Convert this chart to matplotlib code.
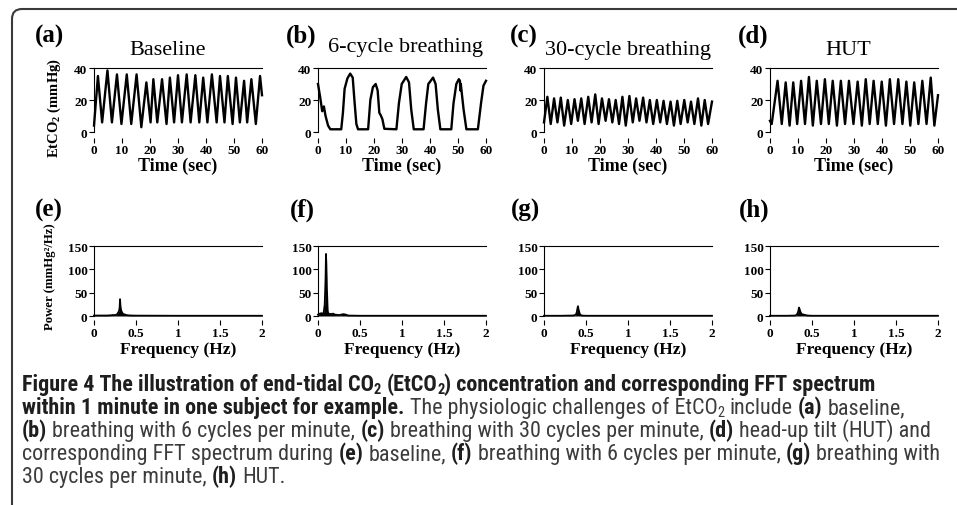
import numpy as np
import matplotlib
matplotlib.use("Agg")
import matplotlib.pyplot as plt
from matplotlib.path import Path
from matplotlib.patches import PathPatch
from matplotlib import font_manager

# ---------------- data ----------------
# (a) Baseline EtCO2 (mmHg): peaks and troughs of each breath
base_peak_t = [1.4, 4.8, 8.2, 11.7, 15.2, 18.7, 21.2, 24.3, 27.1, 30.0,
               33.1, 36.2, 39.0, 42.1, 45.0, 47.8, 50.7, 53.6, 56.2, 59.3]
base_peak_v = [35, 38.5, 36, 36, 36, 31, 33, 33, 34, 35.5,
               36, 35.5, 34, 36, 35, 35, 34, 32, 33, 35]
base_trough_t = [0.0, 2.9, 6.4, 9.8, 13.3, 16.9, 20.2, 22.6, 25.9, 28.6,
                 31.4, 34.5, 37.6, 40.5, 43.8, 46.6, 49.5, 52.1, 54.7, 57.8]
base_trough_v = [4, 6, 6, 5, 5, 3, 6, 6, 5, 6,
                 6, 6, 6, 6, 6, 6, 5, 6, 6, 5]
base_end = (60.0, 23)

# (b) 6-cycle breathing, traced outline
slow_t = [0.0, 0.8, 1.5, 2.1, 2.7, 3.6, 4.4, 8.3, 8.9, 9.5, 10.5, 11.5, 12.4, 13.0,
          13.7, 14.3, 17.9, 18.7, 19.6, 20.6, 21.3, 21.9, 22.4, 23.0, 23.7, 28.0,
          28.9, 29.9, 31.5, 32.5, 33.3, 34.2, 37.7, 38.6, 39.4, 41.1, 42.0, 42.8,
          43.7, 47.6, 48.4, 49.4, 50.3, 50.7, 50.8, 51.0, 52.0, 53.0, 57.1, 58.3,
          59.1, 60.0]
slow_v = [30, 21.5, 13, 16, 10, 4, 1.7, 1.7, 12, 27, 33.5, 36.5, 34, 20,
          5, 1.7, 1.7, 20, 28, 30, 26, 12, 10.5, 8, 2, 1.7,
          18, 30, 34.4, 31, 14, 1.7, 1.7, 18, 30, 34, 30, 14,
          1.7, 1.7, 18, 30, 33, 32, 26, 30, 14, 1.7, 1.7, 19,
          29, 32]

# (c) 30-cycle breathing
fast_peak_t = [1.2, 3.6, 6.0, 8.5, 10.9, 13.3, 15.8, 18.3, 20.7, 23.2, 25.6, 28.0,
               30.5, 32.9, 35.4, 37.8, 40.3, 42.7, 45.2, 47.6, 50.1, 52.5, 55.0, 57.4]
fast_peak_v = [22, 21, 21.5, 20, 20.5, 21, 22, 23.5, 21, 20.5, 20, 22,
               22.5, 21, 21.5, 20, 20, 19.5, 19, 19.5, 20, 19, 21, 20]
fast_trough_t = [0.0, 2.4, 4.8, 7.2, 9.7, 12.1, 14.5, 17.0, 19.5, 22.0, 24.4, 26.8,
                 29.2, 31.7, 34.1, 36.6, 39.0, 41.5, 43.9, 46.4, 48.8, 51.3, 53.7, 56.2, 58.6]
fast_trough_v = [6, 5, 6, 4, 5, 7, 5, 6, 5, 7, 6, 5,
                 4, 6, 7, 6, 5, 6, 5, 4, 5, 6, 5, 4, 5]
fast_end = (60.0, 19)

# (d) HUT
hut_peak_t = [2.7, 5.6, 8.3, 11.1, 13.9, 16.7, 19.6, 22.4, 25.3, 28.2,
              31.3, 34.2, 37.0, 39.9, 42.8, 45.8, 48.7, 51.5, 54.4, 57.4]
hut_peak_v = [32, 31, 31, 32, 34.4, 32, 33, 32, 32, 32,
              31.5, 33, 32, 31.5, 33, 33, 31.5, 31, 32, 34]
hut_trough_t = [0.0, 0.6, 4.2, 7.0, 9.7, 12.5, 15.3, 18.2, 21.0, 23.9, 26.8,
                29.8, 32.8, 35.6, 38.5, 41.4, 44.3, 47.3, 50.1, 53.0, 55.9, 58.7]
hut_trough_v = [7, 5, 5, 4, 5, 5, 4, 5, 5, 4, 5,
                5, 4, 5, 5, 4, 5, 5, 4, 5, 5, 4]
hut_end = (60.0, 23)

# FFT spectra, power (mmHg^2/Hz) vs frequency (Hz)
e_f = [0, 0.05, 0.1, 0.15, 0.2, 0.22, 0.25, 0.27, 0.28, 0.29, 0.30, 0.305, 0.31,
       0.315, 0.32, 0.33, 0.34, 0.35, 0.37, 0.40, 0.45, 0.5, 1.0, 1.5, 2.0]
e_p = [1, 1, 1, 1, 1.5, 2, 2, 3, 5, 8, 12, 18, 36,
       22, 14, 9, 6, 4, 3, 1.5, 1, 0.8, 0.5, 0.5, 0.5]
f_f = [0, 0.02, 0.04, 0.06, 0.07, 0.08, 0.09, 0.095, 0.10, 0.105, 0.11, 0.115, 0.12,
       0.13, 0.15, 0.18, 0.2, 0.25, 0.28, 0.3, 0.33, 0.36, 0.4, 0.5, 1.0, 1.5, 2.0]
f_p = [3, 5, 6, 4, 10, 25, 80, 133, 110, 60, 40, 12, 6,
       5, 4, 5, 3, 2, 3, 4, 3, 1, 0.8, 0.5, 0.5, 0.5, 0.5]
g_f = [0, 0.2, 0.35, 0.38, 0.39, 0.40, 0.405, 0.41, 0.42, 0.43, 0.45, 0.5, 1, 1.5, 2]
g_p = [0.5, 0.5, 1, 3, 8, 18, 21, 15, 8, 3, 1, 0.5, 0.5, 0.5, 0.5]
h_f = [0, 0.2, 0.3, 0.32, 0.335, 0.345, 0.35, 0.36, 0.37, 0.38, 0.4, 0.42, 0.45,
       0.5, 1, 1.5, 2]
h_p = [0.5, 0.5, 1, 3, 9, 18, 16, 10, 6, 4, 3, 2, 1,
       0.5, 0.5, 0.5, 0.5]

titles = ["Baseline", "6-cycle breathing", "30-cycle breathing", "HUT"]
top_letters = ["(a)", "(b)", "(c)", "(d)"]
bot_letters = ["(e)", "(f)", "(g)", "(h)"]
time_ticks = [0, 10, 20, 30, 40, 50, 60]
freq_ticks = [0, 0.5, 1, 1.5, 2]
freq_labels = ["0", "0.5", "1", "1.5", "2"]

caption = [
    [("Figure 4 The illustration of end-tidal CO", "b"), ("2", "bs"), (" (EtCO", "b"),
     ("2", "bs"), (") concentration and corresponding FFT spectrum", "b")],
    [("within 1 minute in one subject for example.", "b"),
     (" The physiologic challenges of EtCO", "n"), ("2", "ns"), (" include ", "n"),
     ("(a)", "b"), (" baseline,", "n")],
    [("(b)", "b"), (" breathing with 6 cycles per minute, ", "n"), ("(c)", "b"),
     (" breathing with 30 cycles per minute, ", "n"), ("(d)", "b"),
     (" head-up tilt (HUT) and", "n")],
    [("corresponding FFT spectrum during ", "n"), ("(e)", "b"), (" baseline, ", "n"),
     ("(f)", "b"), (" breathing with 6 cycles per minute, ", "n"), ("(g)", "b"),
     (" breathing with", "n")],
    [("30 cycles per minute, ", "n"), ("(h)", "b"), (" HUT.", "n")],
]
# right edge of the first four caption lines in the reference (pixels)
caption_ends = [925, 930, 938, 938]


def merge(pt, pv, tt, tv, end):
    t = np.array(list(pt) + list(tt) + [end[0]])
    v = np.array(list(pv) + list(tv) + [end[1]])
    o = np.argsort(t, kind="stable")
    return t[o], v[o]


waves = [merge(base_peak_t, base_peak_v, base_trough_t, base_trough_v, base_end),
         (np.array(slow_t), np.array(slow_v)),
         merge(fast_peak_t, fast_peak_v, fast_trough_t, fast_trough_v, fast_end),
         merge(hut_peak_t, hut_peak_v, hut_trough_t, hut_trough_v, hut_end)]
spectra = [(e_f, e_p), (f_f, f_p), (g_f, g_p), (h_f, h_p)]

# ---------------- figure ----------------
plt.rcParams['font.family'] = ['Liberation Serif', 'DejaVu Serif']
plt.rcParams['mathtext.fontset'] = 'custom'
plt.rcParams['mathtext.rm'] = 'Liberation Serif'
plt.rcParams['mathtext.bf'] = 'Liberation Serif:bold'

W, H = 957, 506
fig = plt.figure(figsize=(W / 100, H / 100), dpi=100)
bg = fig.add_axes([0, 0, 1, 1], zorder=-1)
bg.set_xlim(0, W)
bg.set_ylim(H, 0)
bg.axis('off')

# frame: top and left rule with rounded corner
r = 10
verts = [(W, 10), (12 + r, 10), (12, 10), (12, 10 + r), (12, H)]
codes = [Path.MOVETO, Path.LINETO, Path.CURVE3, Path.CURVE3, Path.LINETO]
bg.add_patch(PathPatch(Path(verts, codes), fill=False, lw=1.5, ec='#3a3a3a'))

lefts = [94, 318, 544, 770]
pw = 168


def px_axes(x0, ytop, ybot):
    return fig.add_axes([x0 / W, 1 - ybot / H, pw / W, (ybot - ytop) / H])


def style(ax, out):
    ax.spines['right'].set_visible(False)
    ax.spines['bottom'].set_visible(False)
    ax.spines['bottom'].set_position(('outward', out))
    for s in ('left', 'top'):
        ax.spines[s].set_linewidth(0.8)
    ax.tick_params(axis='both', direction='out', length=3.5, width=0.8,
                   labelsize=9.5, pad=1.2)
    for lab in ax.get_xticklabels() + ax.get_yticklabels():
        lab.set_fontweight('bold')


for i in range(4):
    ax = px_axes(lefts[i], 69, 133)
    t, v = waves[i]
    ax.plot(t, v, color='black', lw=1.7, clip_on=False, solid_joinstyle='round')
    ax.set_xlim(0, 60)
    ax.set_ylim(0, 40)
    ax.set_xticks(time_ticks)
    ax.set_yticks([0, 20, 40])
    style(ax, 4)
    ax.set_xlabel("Time (sec)", fontsize=13, fontweight='bold', labelpad=0.5)

    ax2 = px_axes(lefts[i], 247, 317)
    f, p = spectra[i]
    ax2.fill_between(f, 0, p, color='black', lw=0, clip_on=False)
    ax2.plot(f, p, color='black', lw=1.3, clip_on=False)
    ax2.set_xlim(0, 2)
    ax2.set_ylim(0, 150)
    ax2.set_xticks(freq_ticks)
    ax2.set_xticklabels(freq_labels)
    ax2.set_yticks([0, 50, 100, 150])
    style(ax2, 3)
    ax2.set_xlabel("Frequency (Hz)", fontsize=12.5, fontweight='bold', labelpad=2)

# titles and panel letters
title_x = [168, 406, 628, 848]
title_y = [50, 47, 50, 50]
for i in range(4):
    bg.text(title_x[i], title_y[i], titles[i], fontsize=16, ha='center', va='center')
top_lx = [50, 301, 524, 753]
bot_lx = [49, 302, 525, 754]
for i in range(4):
    bg.text(top_lx[i], 36, top_letters[i], fontsize=18, fontweight='bold',
            ha='center', va='center')
    bg.text(bot_lx[i], 210, bot_letters[i], fontsize=18, fontweight='bold',
            ha='center', va='center')

bg.text(54, 108, r'EtCO$_\mathbf{2}$ (mmHg)', rotation=90, fontsize=10.5,
        fontweight='bold', ha='center', va='center')
bg.text(50, 277, 'Power (mmHg²/Hz)', rotation=90, fontsize=9.2,
        fontweight='bold', ha='center', va='center')

# ---------------- caption ----------------
fonts = font_manager.fontManager.ttflist
names = {fe.name for fe in fonts}
cap_family, cap_stretch = 'Liberation Sans', 'normal'
if 'Roboto Condensed' in names:
    cap_family = 'Roboto Condensed'
elif 'Liberation Sans Narrow' in names:
    cap_family = 'Liberation Sans Narrow'
elif any(fe.name == 'DejaVu Sans' and fe.stretch == 'condensed' for fe in fonts):
    cap_family, cap_stretch = 'DejaVu Sans', 'condensed'

renderer = fig.canvas.get_renderer()
colors = {'b': '#1e1e1e', 'n': '#3c3c3c'}


def ink_width(s, size, weight):
    tt = bg.text(0, 0, s, fontsize=size, fontweight=weight, family=cap_family,
                 fontstretch=cap_stretch)
    w = tt.get_window_extent(renderer).width
    tt.remove()
    return w


def draw_line(x, y, runs, size, draw=True):
    sp = {w: ink_width('a a', size, w) - ink_width('aa', size, w)
          for w in ('bold', 'normal')}
    for txt, st in runs:
        weight = 'bold' if 'b' in st else 'normal'
        sub = 's' in st
        fs = size * 0.65 if sub else size
        core = txt.strip(' ')
        lead = len(txt) - len(txt.lstrip(' '))
        trail = len(txt) - len(txt.rstrip(' '))
        x += lead * sp[weight]
        dy = size * 0.15 * 100 / 72 if sub else 0
        tt = bg.text(x, y + dy, core, fontsize=fs, fontweight=weight, family=cap_family,
                     fontstretch=cap_stretch, color=colors[st[0]],
                     ha='left', va='baseline')
        x += tt.get_window_extent(renderer).width
        if not draw:
            tt.remove()
        x += trail * sp[weight]
    return x


trial = 13.0
scales = []
for line, target in zip(caption, caption_ends):
    e = draw_line(22, 391, line, trial, draw=False)
    scales.append((target - 22) / (e - 22))
cap_size = trial * min(scales)
for k, line in enumerate(caption):
    draw_line(22, 391 + 23 * k, line, cap_size)

fig.savefig("out.png", dpi=100)
